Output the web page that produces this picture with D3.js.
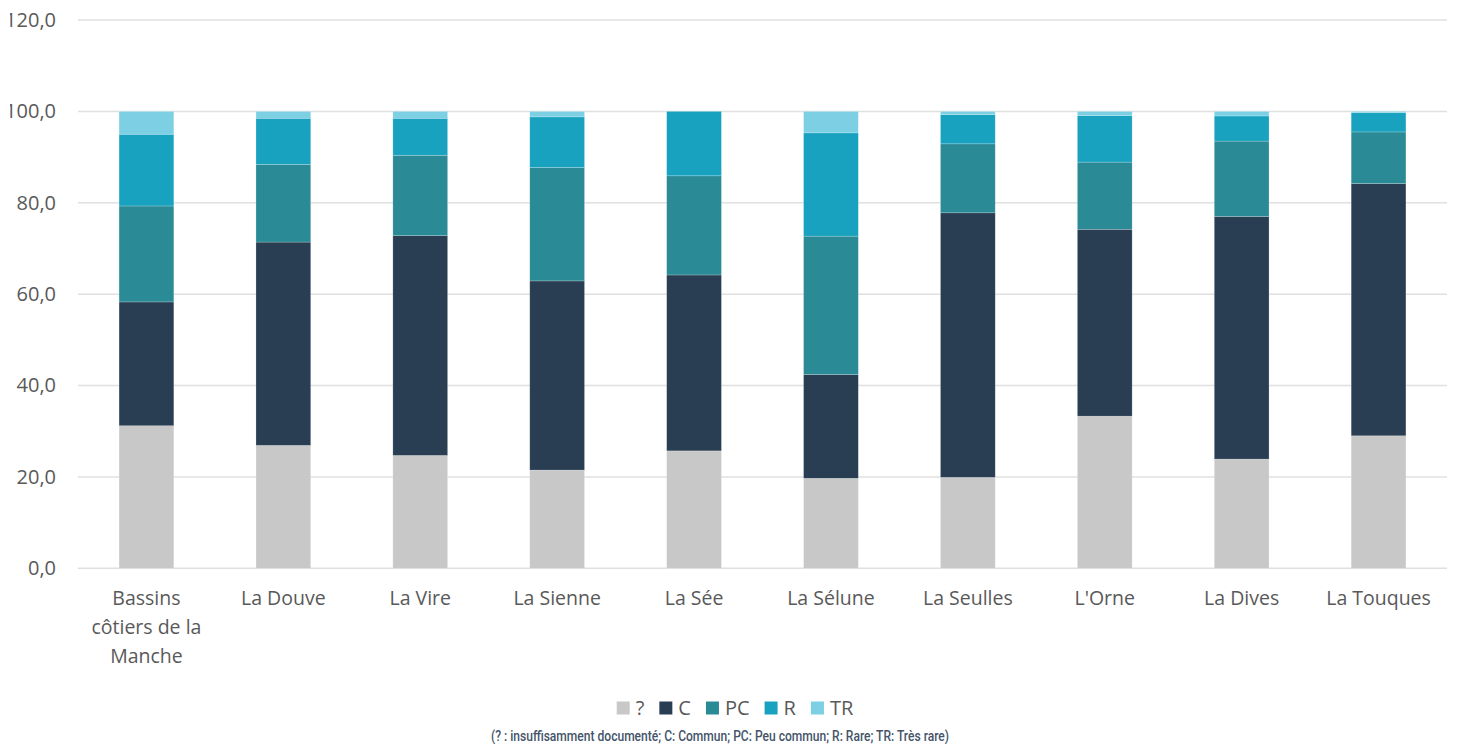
<!DOCTYPE html>
<meta charset="utf-8">
<html lang="fr">
<head>
    <title>Stacked_Bars</title>
    <script src="https://cdn.jsdelivr.net/npm/d3@7"></script>
</head>
<style>
    body{
        margin: 0;
        background: #fff;
    }
    svg{
        display: block;
    }
    text{
        font-family: "Open Sans", sans-serif;
        fill: #595959;
    }
    .grid line{
        stroke: #e0e0e0;
        stroke-width: 1.5px;
    }
    .note{
        font-family: "Roboto", "DejaVu Sans Condensed", sans-serif;
        font-weight: 500;
        fill: #44546a;
    }
</style>
<body>
<svg width="1457" height="744"></svg>
<script>

    // categories + series (percent)
    const categories = ["Bassins côtiers de la Manche", "La Douve", "La Vire", "La Sienne", "La Sée",
        "La Sélune", "La Seulles", "L'Orne", "La Dives", "La Touques"]
    const seriesNames = ["?", "C", "PC", "R", "TR"]
    const unknown   = [31.2, 26.9, 24.7, 21.5, 25.7, 19.7, 19.9, 33.3, 23.9, 29.0]
    const commun    = [27.1, 44.5, 48.1, 41.4, 38.5, 22.7, 57.9, 40.9, 53.1, 55.2]
    const peuCommun = [21.0, 17.0, 17.6, 24.8, 21.7, 30.3, 15.1, 14.7, 16.5, 11.3]
    const rare      = [15.7, 10.1,  8.1, 11.1, 14.1, 22.6,  6.4, 10.2,  5.5,  4.2]
    const tresRare  = [ 5.0,  1.5,  1.5,  1.2,  0.0,  4.7,  0.7,  0.9,  1.0,  0.3]
    const yTicks = [0, 20, 40, 60, 80, 100, 120]
    const note = "(? : insuffisamment documenté; C: Commun; PC: Peu commun; R: Rare; TR: Très rare)"

    const colors = ["#c8c8c8", "#293e52", "#2a8a96", "#18a2c0", "#7dd0e3"]
    const seriesValues = [unknown, commun, peuCommun, rare, tresRare]

    const table = categories.map((c, i) => {
        const row = {cat: c}
        seriesNames.forEach((s, j) => row[s] = seriesValues[j][i])
        return row
    })

    const svg = d3.select("svg")

    const x = d3.scaleBand()
        .domain(categories)
        .range([78, 1447])
        .paddingInner(0.6)
        .paddingOuter(0.3)

    const y = d3.scaleLinear()
        .domain([0, 120])
        .range([568.3, 20])

    // clip that mimics the cut left edge of the original
    svg.append("clipPath").attr("id", "cut")
        .append("rect").attr("x", 10).attr("y", 0).attr("width", 1457).attr("height", 744)

    // grid
    svg.append("g")
        .attr("class", "grid")
        .selectAll("line")
        .data(yTicks)
        .enter()
        .append("line")
        .attr("x1", 78)
        .attr("x2", 1447)
        .attr("y1", d => y(d))
        .attr("y2", d => y(d))

    // y axis
    const yAxis = svg.append("g")
        .attr("clip-path", "url(#cut)")
        .append("g")
        .attr("transform", "translate(78,0)")
        .call(d3.axisLeft(y).tickValues(yTicks).tickSize(0).tickPadding(22)
            .tickFormat(d => d3.format(".1f")(d).replace(".", ",")))
    yAxis.select(".domain").remove()
    yAxis.selectAll("text")
        .style("font-size", "20px")
        .style("font-family", "'Open Sans', sans-serif")
        .attr("fill", "#595959")

    // stacked bars
    const stacked = d3.stack().keys(seriesNames)(table)

    svg.append("g")
        .selectAll("g")
        .data(stacked)
        .enter()
        .append("g")
        .attr("fill", (d, i) => colors[i])
        .selectAll("rect")
        .data(d => d)
        .enter()
        .append("rect")
        .attr("x", d => x(d.data.cat))
        .attr("width", x.bandwidth())
        .attr("y", d => y(d[1]))
        .attr("height", d => y(d[0]) - y(d[1]))
        .attr("stroke", "#ffffff")
        .attr("stroke-opacity", 0.35)
        .attr("stroke-width", 0.6)

    // x labels, wrapped
    function wrap(label, maxW, fontSize) {
        const words = label.split(" ")
        const lines = []
        let cur = ""
        const probe = svg.append("text").style("font-size", fontSize + "px")
        words.forEach(w => {
            const test = cur ? cur + " " + w : w
            probe.text(test)
            if (probe.node().getComputedTextLength() > maxW && cur) {
                lines.push(cur)
                cur = w
            } else {
                cur = test
            }
        })
        lines.push(cur)
        probe.remove()
        return lines
    }

    const xLabels = svg.append("g")
    categories.forEach(c => {
        const lines = wrap(c, 125, 19.5)
        const t = xLabels.append("text")
            .attr("x", x(c) + x.bandwidth() / 2)
            .attr("y", 605)
            .attr("text-anchor", "middle")
            .style("font-size", "19.5px")
        lines.forEach((l, i) => {
            t.append("tspan")
                .attr("x", x(c) + x.bandwidth() / 2)
                .attr("dy", i === 0 ? 0 : 29)
                .text(l)
        })
    })

    // legend
    const legend = svg.append("g")
    let lx = 0
    seriesNames.forEach((s, i) => {
        const item = legend.append("g").attr("transform", `translate(${lx},0)`)
        item.append("rect")
            .attr("x", 0)
            .attr("y", -6.5)
            .attr("width", 13)
            .attr("height", 13)
            .attr("fill", colors[i])
        const t = item.append("text")
            .attr("x", 19)
            .attr("y", 7)
            .style("font-size", "20px")
            .text(s)
        lx += 19 + t.node().getComputedTextLength() + 15
    })
    lx -= 15
    legend.attr("transform", `translate(${735 - lx / 2},708)`)

    // footnote
    svg.append("text")
        .attr("class", "note")
        .attr("x", 720)
        .attr("y", 741)
        .attr("text-anchor", "middle")
        .attr("textLength", 458)
        .attr("lengthAdjust", "spacingAndGlyphs")
        .style("font-size", "15px")
        .text(note)
</script>
</body>
</html>
